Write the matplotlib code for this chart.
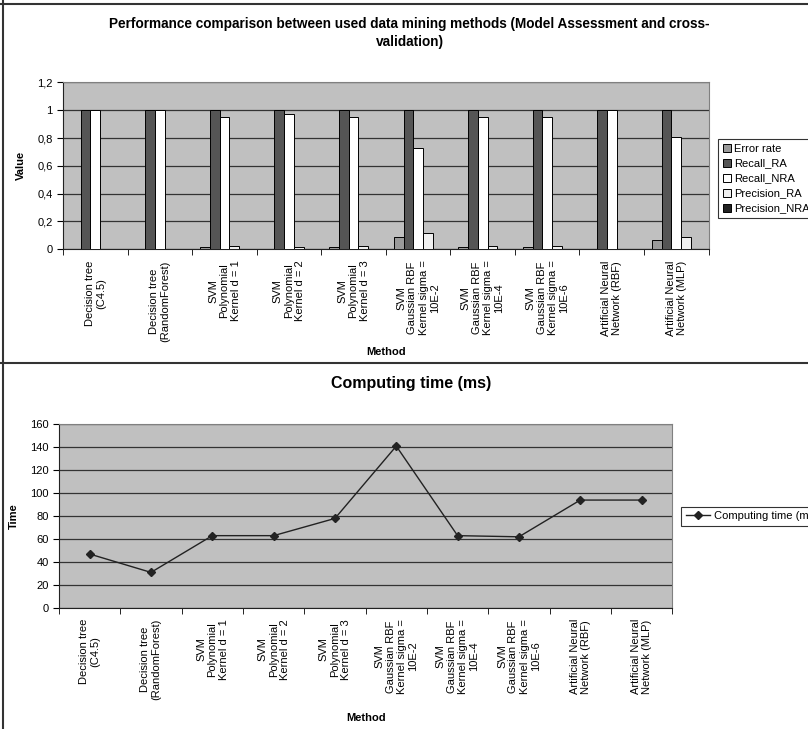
import numpy as np
import matplotlib
matplotlib.use("Agg")
import matplotlib.pyplot as plt
from matplotlib.lines import Line2D
from matplotlib.ticker import FixedLocator, FuncFormatter, MultipleLocator

plt.rcParams["font.family"] = ["Liberation Sans", "DejaVu Sans"]

# ---------- data ------------------------------------------------------------
methods = [
    "Decision tree\n(C4.5)",
    "Decision tree\n(RandomForest)",
    "SVM\nPolynomial\nKernel d = 1",
    "SVM\nPolynomial\nKernel d = 2",
    "SVM\nPolynomial\nKernel d = 3",
    "SVM\nGaussian RBF\nKernel sigma =\n10E-2",
    "SVM\nGaussian RBF\nKernel sigma =\n10E-4",
    "SVM\nGaussian RBF\nKernel sigma =\n10E-6",
    "Artificial Neural\nNetwork (RBF)",
    "Artificial Neural\nNetwork (MLP)",
]
series_names = ["Error rate", "Recall_RA", "Recall_NRA", "Precision_RA", "Precision_NRA"]
error_rate = [0, 0, 0.02, 0.005, 0.02, 0.09, 0.02, 0.02, 0, 0.065]
recall_ra = [1, 1, 1, 1, 1, 1, 1, 1, 1, 1]
recall_nra = [1, 1, 0.95, 0.97, 0.95, 0.73, 0.95, 0.95, 1, 0.81]
precision_ra = [0, 0, 0.025, 0.015, 0.025, 0.12, 0.025, 0.025, 0, 0.09]
precision_nra = [0, 0, 0, 0, 0, 0, 0, 0, 0, 0]
computing_time = [47, 31, 63, 63, 78, 141, 63, 62, 94, 94]

PLOT_BG = "#c0c0c0"
bar_colors = ["#9a9a9a", "#555555", "#ffffff", "#f0f0f0", "#222222"]


def excel_axes(ax, ymax, ystep, fmt):
    ax.set_facecolor(PLOT_BG)
    n = len(methods)
    ax.set_xlim(-0.5, n - 0.5)
    ax.set_ylim(0, ymax)
    ax.yaxis.set_major_locator(MultipleLocator(ystep))
    ax.yaxis.set_major_formatter(FuncFormatter(fmt))
    ax.xaxis.set_major_locator(FixedLocator(np.arange(n)))
    ax.set_xticklabels(methods, rotation=90, fontsize=8, ha="center", va="top",
                       multialignment="center", linespacing=1.15)
    ax.xaxis.set_minor_locator(FixedLocator(np.arange(n + 1) - 0.5))
    ax.tick_params(axis="x", which="major", length=0, pad=8)
    ax.tick_params(axis="x", which="minor", length=4, direction="out")
    ax.tick_params(axis="y", length=4, direction="out", labelsize=8)
    ax.yaxis.grid(True, color="#333333", lw=0.9)
    ax.set_axisbelow(True)
    for s in ("top", "right"):
        ax.spines[s].set_color("#808080")
    for s in ("left", "bottom"):
        ax.spines[s].set_color("#222222")


fig = plt.figure(figsize=(8.08, 7.29), dpi=100, facecolor="white")

# ---------- top: bar chart ----------------------------------------------------
ax1 = fig.add_axes([0.078, 0.658, 0.799, 0.229])
excel_axes(ax1, 1.2, 0.2, lambda v, p: f"{v:.1f}".rstrip("0").rstrip(".").replace(".", ","))
x = np.arange(len(methods))
w = 0.15
for k, (name, vals) in enumerate(zip(series_names,
                                     [error_rate, recall_ra, recall_nra, precision_ra, precision_nra])):
    ax1.bar(x + (k - 2) * w, vals, width=w, color=bar_colors[k], edgecolor="black",
            lw=0.7, label=name, zorder=3)
ax1.set_ylabel("Value", fontsize=8, fontweight="bold", labelpad=8)
ax1.set_xlabel("Method", fontsize=8, fontweight="bold", labelpad=4)
ax1.set_title("Performance comparison between used data mining methods (Model Assessment and cross-\nvalidation)",
              fontsize=9.8, fontweight="bold", linespacing=1.35, pad=26, x=0.537)
leg = ax1.legend(loc="upper left", bbox_to_anchor=(1.015, 0.66), fontsize=8, frameon=True,
                 fancybox=False, edgecolor="black", handlelength=0.7, handleheight=0.7,
                 handletextpad=0.3, borderpad=0.4, labelspacing=0.45, borderaxespad=0)
leg.get_frame().set_linewidth(0.8)

# ---------- bottom: line chart ------------------------------------------------
ax2 = fig.add_axes([0.073, 0.166, 0.759, 0.252])
excel_axes(ax2, 160, 20, lambda v, p: f"{v:.0f}")
ax2.plot(x, computing_time, color="#222222", lw=1.0, marker="D", markersize=4,
         label="Computing time (ms)", zorder=3)
ax2.set_ylabel("Time", fontsize=8, fontweight="bold", labelpad=8)
ax2.set_xlabel("Method", fontsize=8, fontweight="bold", labelpad=9)
ax2.set_title("Computing time (ms)", fontsize=11.5, fontweight="bold", pad=26, x=0.574)
leg2 = ax2.legend(loc="center left", bbox_to_anchor=(1.015, 0.5), fontsize=8, frameon=True,
                  fancybox=False, edgecolor="black", handlelength=2.2, handletextpad=0.3,
                  borderpad=0.4, borderaxespad=0)
leg2.get_frame().set_linewidth(0.8)

# ---------- frame lines -------------------------------------------------------
for xs, ys in [([0, 1], [0.995, 0.995]), ([0.004, 0.004], [0, 1]), ([0, 1], [0.502, 0.502])]:
    fig.add_artist(Line2D(xs, ys, transform=fig.transFigure, color="#333333", lw=1.5))

fig.savefig("out.png", dpi=100, facecolor="white")
